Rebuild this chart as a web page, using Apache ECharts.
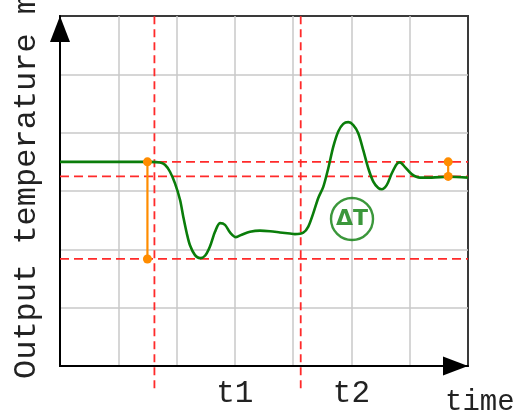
<!DOCTYPE html>
<html><head><meta charset="utf-8">
<script src="https://cdn.jsdelivr.net/npm/echarts@6/dist/echarts.min.js"></script>
<style>html,body{margin:0;padding:0;background:#fff}#c{width:518px;height:418px}</style>
</head><body><div id="c"></div>
<script>
// tick labels on the time axis (value 0..7)
const xTickLabels = ['', '', '', 't1', '', 't2', '', ''];
const yTitle = 'Output temperature m';
const xTitle = 'time';
// output temperature response curve
const curveX = [0, 1.544, 1.716, 1.801, 1.887, 1.973, 2.059, 2.115, 2.174, 2.230, 2.316, 2.402, 2.488, 2.573, 2.659, 2.745, 2.831, 2.917, 3.019, 3.117, 3.260, 3.431, 3.603, 3.774, 3.946, 4.030, 4.174, 4.260, 4.346, 4.431, 4.517, 4.603, 4.689, 4.774, 4.860, 4.946, 5.032, 5.117, 5.203, 5.289, 5.375, 5.461, 5.519, 5.605, 5.691, 5.776, 5.833, 5.919, 6.034, 6.176, 6.377, 6.662, 7.0];
const curveY = [3.5, 3.5, 3.49, 3.45, 3.33, 3.13, 2.85, 2.56, 2.28, 2.07, 1.90, 1.85, 1.89, 2.05, 2.30, 2.45, 2.42, 2.29, 2.21, 2.25, 2.30, 2.32, 2.31, 2.29, 2.27, 2.26, 2.285, 2.39, 2.62, 2.88, 3.07, 3.39, 3.76, 4.02, 4.15, 4.18, 4.13, 3.99, 3.70, 3.39, 3.16, 3.05, 3.03, 3.10, 3.30, 3.46, 3.49, 3.41, 3.29, 3.23, 3.23, 3.245, 3.23];
// reference lines
const vRefX = [1.62, 4.13];
const vRefRange = [-0.38, 6];
const hRefY = [3.5, 3.25, 1.835];
const hRefRange = [0, 7];
// measurement brackets
const bracket1 = [[1.5, 3.5], [1.5, 1.835]];
const bracket2 = [[6.66, 3.5], [6.66, 3.25]];
// delta T marker
const deltaMark = [[5.01, 2.52]];
const deltaText = 'ΔT';

const RED = '#ff2a2a', GREEN = '#0a7d0a', ORANGE = '#ff8c00';
const FONT = 'Liberation Mono';
const series = [];
vRefX.forEach(x => series.push({type:'line', data: vRefRange.map(y => [x, y]), symbol:'none', clip:false, silent:true,
  lineStyle:{color:RED, width:1.8, type:[8,5]}, z:2}));
hRefY.forEach(y => series.push({type:'line', data: hRefRange.map(x => [x, y]), symbol:'none', silent:true,
  lineStyle:{color:RED, width:1.8, type:[9,5]}, z:2}));
series.push({type:'line', data: curveX.map((x,i) => [x, curveY[i]]), symbol:'none', smooth:0.3,
  lineStyle:{color:GREEN, width:2.6}, z:3});
[bracket1, bracket2].forEach(b => series.push({type:'line', data:b, symbol:'circle', symbolSize:9, showSymbol:true,
  itemStyle:{color:ORANGE}, lineStyle:{color:ORANGE, width:2.2}, z:4}));
series.push({type:'scatter', data: deltaMark, symbol:'circle', symbolSize:42,
  itemStyle:{color:'rgba(0,0,0,0)', borderColor:GREEN, borderWidth:2.4},
  label:{show:true, position:'inside', formatter: deltaText, color:GREEN, fontSize:22, fontWeight:'bold', fontFamily:'DejaVu Sans'}, z:4});

const chart = echarts.init(document.getElementById('c'), null, {renderer:'canvas'});
chart.setOption({
  animation:false,
  grid:{left:60, top:16, width:408, height:350, show:true, borderColor:'#3a3a3a', borderWidth:2},
  xAxis:{type:'value', min:0, max:7, interval:1,
    axisLine:{show:true, lineStyle:{color:'#000', width:2}, symbol:['none','triangle'], symbolSize:[19,25], symbolOffset:[0,-12.5]},
    axisTick:{show:false},
    splitLine:{show:true, showMinLine:false, showMaxLine:false, lineStyle:{color:'#c8c8c8', width:1.5}},
    axisLabel:{formatter:v => xTickLabels[Math.round(v)] || '', fontFamily:FONT, fontSize:31, color:'#222', margin:12},
    name:xTitle, nameLocation:'end', nameGap:-23,
    nameTextStyle:{fontFamily:FONT, fontSize:29, color:'#222', align:'left', verticalAlign:'top', padding:[22,0,0,0]}},
  yAxis:{type:'value', min:0, max:6, interval:1,
    axisLine:{show:true, lineStyle:{color:'#000', width:2}, symbol:['none','triangle'], symbolSize:[20,26], symbolOffset:[0,-13]},
    axisTick:{show:false},
    splitLine:{show:true, showMinLine:false, showMaxLine:false, lineStyle:{color:'#c8c8c8', width:1.5}},
    axisLabel:{show:false}},
  graphic:[{type:'text', x:27, y:379, rotation:Math.PI/2,
    style:{text:yTitle, font:'32px "Liberation Mono"', fill:'#222', textAlign:'left', textVerticalAlign:'middle'}}],
  series: series
});
</script></body></html>
